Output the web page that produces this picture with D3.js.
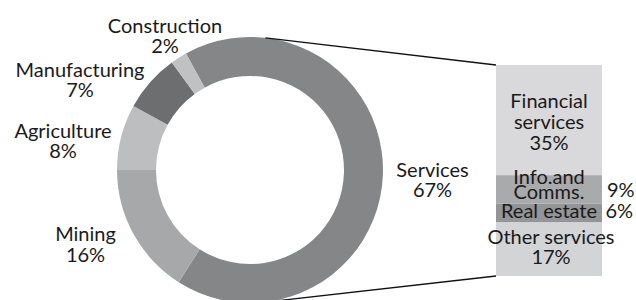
<!DOCTYPE html>
<html>
<head>
<meta charset="utf-8">
<script src="https://cdn.jsdelivr.net/npm/d3@7"></script>
<style>
  body { margin: 0; background: #fff; }
  text { font-family: Lato, "Open Sans", sans-serif; font-size: 20px; fill: #1a1a1a; }
</style>
</head>
<body>
<div id="chart"></div>
<script>
// Sector shares (doughnut)
const sectors = ["Services", "Mining", "Agriculture", "Manufacturing", "Construction"];
const sectorShares = [67, 16, 8, 7, 2];
const sectorColors = ["#858688", "#a7a8aa", "#bdbec0", "#6d6e70", "#c0c1c3"];

// Breakdown of services (stacked bar)
const services = ["Financial services", "Info.and Comms.", "Real estate", "Other services"];
const serviceShares = [35, 9, 6, 17];
const serviceColors = ["#d9d9db", "#a9aaac", "#949597", "#d3d4d6"];

const width = 636;
const height = 300;

const svg = d3.select("#chart")
    .append("svg")
    .attr("width", width)
    .attr("height", height);

// doughnut geometry
const cx = 250, cy = 170;
const outerR = 133, innerR = 94;
const start = -28.8 * Math.PI / 180;

const pie = d3.pie()
    .sort(null)
    .value(d => d)
    .startAngle(start)
    .endAngle(start + 2 * Math.PI);

const arc = d3.arc().innerRadius(innerR).outerRadius(outerR);

const donut = svg.append("g").attr("transform", `translate(${cx},${cy})`);
donut.selectAll("path")
    .data(pie(sectorShares))
    .enter().append("path")
    .attr("d", arc)
    .attr("fill", (d, i) => sectorColors[i]);

// stacked bar for services
const barX0 = 496, barX1 = 602;
const y = d3.scaleLinear()
    .domain([0, d3.sum(serviceShares)])
    .range([65, 276]);

const cum = d3.cumsum(serviceShares);
const bar = svg.append("g");
bar.selectAll("rect")
    .data(serviceShares)
    .enter().append("rect")
    .attr("x", barX0)
    .attr("width", barX1 - barX0)
    .attr("y", (d, i) => y(cum[i] - d))
    .attr("height", d => y(d) - y(0))
    .attr("fill", (d, i) => serviceColors[i]);

// connector lines: tangents from bar corners to the outer ring
function tangentPoint(px, py, upper) {
    const dx = px - cx, dy = py - cy;
    const d = Math.sqrt(dx * dx + dy * dy);
    const th = Math.atan2(dy, dx);
    const a = Math.acos(outerR / d);
    const t = upper ? th - a : th + a;
    return [cx + outerR * Math.cos(t), cy + outerR * Math.sin(t)];
}
const barTop = [barX0, y(0)];
const barBottom = [barX0, y(d3.sum(serviceShares))];
[[barTop, true], [barBottom, false]].forEach(([p, upper]) => {
    const t = tangentPoint(p[0], p[1], upper);
    svg.append("line")
        .attr("x1", t[0]).attr("y1", t[1])
        .attr("x2", p[0]).attr("y2", p[1])
        .attr("stroke", "#111")
        .attr("stroke-width", 1.3);
});

// labels (lines of text, x centre, baselines)
const labels = [
    { lines: ["Construction", "2%"], x: 165, y: [33, 52.5] },
    { lines: ["Manufacturing", "7%"], x: 80, y: [76.5, 96.5] },
    { lines: ["Agriculture", "8%"], x: 63, y: [137.5, 158] },
    { lines: ["Mining", "16%"], x: 85.5, y: [240.5, 261.5] },
    { lines: ["Services", "67%"], x: 432.5, y: [176.5, 196.5] },
    { lines: ["Financial", "services", "35%"], x: 549, y: [107.5, 128.5, 149.5] },
    { lines: ["Info.and", "Comms."], x: 549, y: [184, 199] },
    { lines: ["Real estate"], x: 549, y: [218] },
    { lines: ["Other services", "17%"], x: 551, y: [243.5, 263.5] }
];

labels.forEach(l => {
    const t = svg.append("text").attr("text-anchor", "middle");
    l.lines.forEach((s, i) => {
        t.append("tspan")
            .attr("x", l.x)
            .attr("y", l.y[i])
            .text(s);
    });
});

// small shares written beside the bar
svg.append("text").attr("x", 607).attr("y", 196.5).text(serviceShares[1] + "%");
svg.append("text").attr("x", 605.5).attr("y", 218).text(serviceShares[2] + "%");
</script>
</body>
</html>
